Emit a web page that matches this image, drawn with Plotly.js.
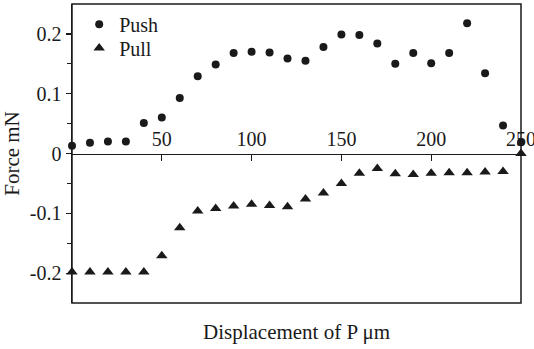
<!DOCTYPE html>
<html>
<head>
<meta charset="utf-8">
<script src="https://cdn.plot.ly/plotly-3.0.1.min.js"></script>
<style>html,body{margin:0;padding:0;background:#fff;}#chart{width:534px;height:349px;}</style>
</head>
<body>
<div id="chart"></div>
<script>
// Displacement of P (μm)
const pushX = [0,10,20,30,40,50,60,70,80,90,100,110,120,130,140,150,160,170,180,190,200,210,220,230,240,250];
const pushForce = [0.013,0.018,0.020,0.020,0.051,0.060,0.093,0.129,0.149,0.168,0.170,0.169,0.159,0.155,0.178,0.199,0.198,0.184,0.150,0.168,0.151,0.168,0.218,0.134,0.047,0.019];
const pullX = [0,10,20,30,40,50,60,70,80,90,100,110,120,130,140,150,160,170,180,190,200,210,220,230,240,250];
const pullForce = [-0.198,-0.198,-0.198,-0.198,-0.198,-0.171,-0.124,-0.096,-0.092,-0.088,-0.085,-0.087,-0.089,-0.076,-0.066,-0.050,-0.033,-0.025,-0.034,-0.035,-0.033,-0.032,-0.032,-0.031,-0.030,0.0];
const xTicks = [50,100,150,200,250];
const yTicks = [-0.2,-0.1,0,0.1,0.2];
const yTickText = ['-0.2','-0.1','0','0.1','0.2'];

const FONT = 'Liberation Serif, Times New Roman, serif';
const INK = '#1a1a1a';

const traces = [
  {x: pushX, y: pushForce, name: 'Push', mode: 'markers', type: 'scatter', legend: 'legend',
   marker: {symbol: 'circle', size: 8, color: INK}, cliponaxis: false},
  {x: pullX, y: pullForce, name: 'Pull', mode: 'markers', type: 'scatter', legend: 'legend2',
   marker: {symbol: 'triangle-up', size: 10, color: INK}, cliponaxis: false}
];

const legendBase = {xanchor: 'left', yanchor: 'middle', bgcolor: 'rgba(0,0,0,0)',
  font: {family: FONT, size: 20, color: INK}, itemwidth: 30};

const layout = {
  width: 534, height: 349,
  margin: {l: 72, r: 13, t: 4, b: 46},
  paper_bgcolor: '#fff', plot_bgcolor: '#fff',
  font: {family: FONT, size: 20, color: INK},
  showlegend: true,
  legend: Object.assign({x: 0.016, y: 0.932}, legendBase),
  legend2: Object.assign({x: 0.016, y: 0.853}, legendBase),
  xaxis: {range: [0, 250], anchor: 'free', position: 0.5, side: 'top',
          showgrid: false, zeroline: false, showline: true, linecolor: INK, linewidth: 1.5,
          tickmode: 'array', tickvals: xTicks, ticktext: xTicks.map(String),
          ticks: 'inside', ticklen: 6, tickwidth: 1.3, tickcolor: INK,
          ticklabeloverflow: 'allow',
          tickfont: {family: FONT, size: 20, color: INK}},
  yaxis: {range: [-0.25, 0.25], showgrid: false, zeroline: false, showline: true,
          linecolor: INK, linewidth: 1.5,
          tickmode: 'array', tickvals: yTicks, ticktext: yTickText,
          ticks: 'outside', ticklen: 5, tickwidth: 1.2, tickcolor: INK,
          minor: {tickmode: 'array', tickvals: [-0.15,-0.05,0.05,0.15], ticks: 'outside', ticklen: 4, tickcolor: INK},
          tickfont: {family: FONT, size: 20, color: INK},
          title: {text: 'Force mN', font: {family: FONT, size: 21, color: INK}, standoff: 5}},
  shapes: [{type: 'rect', xref: 'paper', yref: 'paper', x0: 0, x1: 1, y0: 0, y1: 1,
            line: {color: INK, width: 1.5}, fillcolor: 'rgba(0,0,0,0)', layer: 'above'}],
  annotations: [{text: 'Displacement of P μm', xref: 'paper', yref: 'paper', x: 0.5, y: -0.097,
                 xanchor: 'center', yanchor: 'middle', showarrow: false,
                 font: {family: FONT, size: 21, color: INK}}]
};

Plotly.newPlot('chart', traces, layout, {displayModeBar: false, staticPlot: true});
</script>
</body>
</html>
